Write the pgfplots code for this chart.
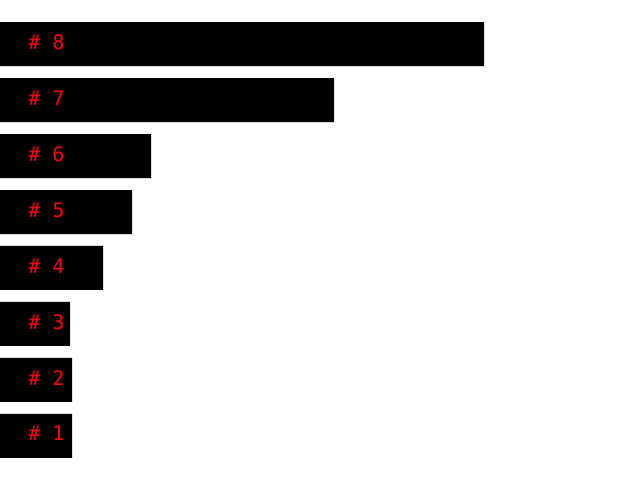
\documentclass[border=0pt]{standalone}
\usepackage{pgfplots}
\usepackage{pgfplotstable}
\pgfplotsset{compat=1.18}
\usepackage{fontspec}
\setmonofont{DejaVu Sans Mono}

\pgfplotstableread{
y  val  lab
1  72   {\#\ 1}
2  72   {\#\ 2}
3  70   {\#\ 3}
4  103  {\#\ 4}
5  132  {\#\ 5}
6  151  {\#\ 6}
7  334  {\#\ 7}
8  484  {\#\ 8}
}\bars

\begin{document}
\begin{tikzpicture}
\begin{axis}[
    scale only axis,
    width=16cm, height=12cm,
    hide axis,
    xmin=0, xmax=640,
    ymin=0.21, ymax=8.79,
    xbar, bar width=0.786, bar shift=0pt,
    clip=false,
]
\addplot[fill=black, draw=none, bar shift=0pt] table[x=val, y=y] {\bars};
\addplot[draw=none, fill=none, bar width=0, bar shift=0pt,
    nodes near coords,
    point meta=explicit symbolic,
    nodes near coords style={anchor=west, text=red, font=\ttfamily\fontsize{14.2}{16}\selectfont, inner sep=0pt, yshift=1.5pt},
] table[x expr=28, y=y, meta=lab] {\bars};
\end{axis}
\path (0,0) rectangle (16cm,12cm);
\end{tikzpicture}
\end{document}
